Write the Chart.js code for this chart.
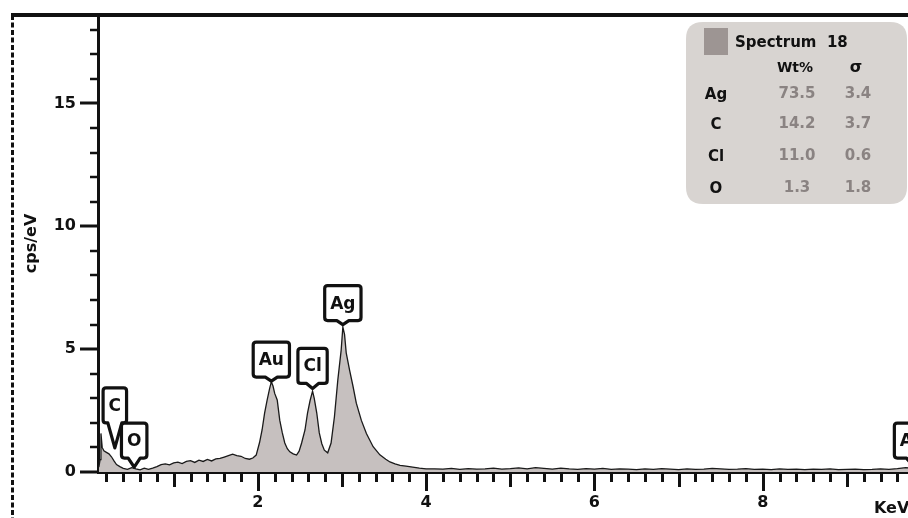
<!DOCTYPE html>
<html>
<head>
<meta charset="utf-8">
<script src="https://cdn.jsdelivr.net/npm/chart.js@4.4.1/dist/chart.umd.min.js"></script>
<style>
  html, body { margin: 0; padding: 0; background: #ffffff; overflow: hidden; width: 908px; height: 518px; }
  #wrap { position: absolute; left: 0; top: 0; width: 940px; height: 518px; }
</style>
</head>
<body>
<div id="wrap"><canvas id="c" width="940" height="518"></canvas></div>
<script>
// ---------- data ----------
const energyKeV = [
  0.11, 0.125, 0.135, 0.15, 0.17, 0.20, 0.23, 0.26, 0.29, 0.32, 0.36, 0.40, 0.45, 0.50, 0.55, 0.60,
  0.65, 0.70, 0.75, 0.80, 0.85, 0.90, 0.95, 1.00, 1.05, 1.10, 1.15, 1.20, 1.25, 1.30, 1.35, 1.40,
  1.45, 1.50, 1.55, 1.60, 1.65, 1.70, 1.75, 1.80, 1.85, 1.90, 1.94, 1.98, 2.02, 2.05, 2.08, 2.11,
  2.14, 2.16, 2.18, 2.20, 2.23, 2.26, 2.29, 2.32, 2.35, 2.38, 2.42, 2.46, 2.49, 2.52, 2.56, 2.59,
  2.62, 2.65, 2.67, 2.70, 2.73, 2.76, 2.79, 2.83, 2.87, 2.91, 2.95, 2.99, 3.01, 3.03, 3.05, 3.09,
  3.13, 3.17, 3.23, 3.29, 3.37, 3.45, 3.52, 3.57, 3.63, 3.69, 3.76, 3.84, 3.92, 4.00,
  4.1, 4.2, 4.3, 4.4, 4.5, 4.6, 4.7, 4.8, 4.9, 5.0, 5.1, 5.2, 5.3, 5.4, 5.5, 5.6, 5.7, 5.8, 5.9, 6.0,
  6.1, 6.2, 6.3, 6.4, 6.5, 6.6, 6.7, 6.8, 6.9, 7.0, 7.1, 7.2, 7.3, 7.4, 7.5, 7.6, 7.7, 7.8, 7.9, 8.0,
  8.1, 8.2, 8.3, 8.4, 8.5, 8.6, 8.7, 8.8, 8.9, 9.0, 9.1, 9.2, 9.3, 9.4, 9.5, 9.6, 9.7, 9.8, 9.9, 10.0
];
const cpsPerEv = [
  0.20, 0.50, 1.57, 1.00, 0.86, 0.80, 0.74, 0.62, 0.45, 0.30, 0.22, 0.15, 0.11, 0.18, 0.13, 0.09,
  0.16, 0.11, 0.16, 0.22, 0.30, 0.33, 0.29, 0.37, 0.40, 0.34, 0.43, 0.46, 0.39, 0.48, 0.43, 0.51,
  0.45, 0.53, 0.55, 0.61, 0.67, 0.73, 0.67, 0.64, 0.55, 0.52, 0.57, 0.69, 1.20, 1.71, 2.40, 2.93,
  3.40, 3.67, 3.50, 3.20, 2.93, 2.11, 1.60, 1.18, 0.95, 0.82, 0.74, 0.69, 0.85, 1.18, 1.71, 2.40,
  2.90, 3.29, 3.00, 2.40, 1.59, 1.15, 0.89, 0.78, 1.18, 2.25, 3.74, 4.96, 5.90, 5.60, 4.85, 4.15,
  3.50, 2.80, 2.10, 1.57, 1.03, 0.70, 0.52, 0.41, 0.33, 0.27, 0.24, 0.20, 0.16, 0.13,
  0.13, 0.12, 0.15, 0.11, 0.14, 0.12, 0.13, 0.16, 0.12, 0.14, 0.17, 0.13, 0.18, 0.15, 0.12, 0.16, 0.13, 0.11, 0.14, 0.12,
  0.15, 0.11, 0.13, 0.12, 0.10, 0.13, 0.11, 0.14, 0.12, 0.10, 0.13, 0.11, 0.12, 0.15, 0.13, 0.11, 0.12, 0.14, 0.11, 0.12,
  0.10, 0.13, 0.11, 0.12, 0.10, 0.12, 0.11, 0.13, 0.10, 0.11, 0.12, 0.10, 0.11, 0.13, 0.11, 0.14, 0.18, 0.15, 0.12, 0.10
];
const xTickValues = [2, 4, 6, 8];
const yTickValues = [0, 5, 10, 15];
const xAxisUnit = 'KeV';
const yAxisTitle = 'cps/eV';

const peakNames  = ['C', 'O', 'Au', 'Cl', 'Ag', 'Au'];
const peakEnergy = [0.30, 0.53, 2.16, 2.65, 3.01, 9.78];
const peakTipY   = [0.98, 0.20, 3.70, 3.40, 6.00, 0.28];

const spectrumName = 'Spectrum  18';
const tableHeader = ['Wt%', 'σ'];
const tableElements = ['Ag', 'C', 'Cl', 'O'];
const tableWt = ['73.5', '14.2', '11.0', '1.3'];
const tableSigma = ['3.4', '3.7', '0.6', '1.8'];

// ---------- styles ----------
const FONT = '"DejaVu Sans", "Liberation Sans", sans-serif';
const peakPointerLen = [25, 9, 4, 5, 4, 7];

const framePlugin = {
  id: 'frame',
  beforeDraw(chart) {
    const ctx = chart.ctx;
    ctx.save();
    ctx.fillStyle = '#ffffff';
    ctx.fillRect(0, 0, chart.width, chart.height);
    ctx.strokeStyle = '#111';
    ctx.lineWidth = 4;
    ctx.beginPath();
    ctx.moveTo(11, 15);
    ctx.lineTo(chart.width, 15);
    ctx.stroke();
    ctx.lineWidth = 3;
    ctx.setLineDash([5, 2.5]);
    ctx.beginPath();
    ctx.moveTo(12.5, 15);
    ctx.lineTo(12.5, chart.height);
    ctx.stroke();
    ctx.restore();
  }
};

const ticksPlugin = {
  id: 'customTicks',
  afterDraw(chart) {
    const ctx = chart.ctx;
    const xs = chart.scales.x, ys = chart.scales.y;
    const left = chart.chartArea.left, bottom = chart.chartArea.bottom;
    ctx.save();
    ctx.strokeStyle = '#111';
    ctx.lineCap = 'butt';
    for (let v = 0; v <= 18; v++) {
      const py = Math.round(ys.getPixelForValue(v));
      const len = (v % 5 === 0) ? 18 : 8;
      ctx.lineWidth = (v % 5 === 0) ? 3 : 2.5;
      ctx.beginPath();
      ctx.moveTo(left - len, py);
      ctx.lineTo(left, py);
      ctx.stroke();
    }
    for (let i = 1; i <= 50; i++) {
      const v = i * 0.2;
      const px = Math.round(xs.getPixelForValue(v)) + 0.5;
      let len = 10;
      if (i % 10 === 0) len = 19; else if (i % 5 === 0) len = 15;
      ctx.lineWidth = 3;
      ctx.beginPath();
      ctx.moveTo(px, bottom);
      ctx.lineTo(px, bottom + len);
      ctx.stroke();
    }
    ctx.fillStyle = '#111';
    ctx.font = 'bold 16px ' + FONT;
    ctx.textAlign = 'left';
    ctx.textBaseline = 'middle';
    ctx.fillText(xAxisUnit, 874, 509);
    ctx.restore();
  }
};

function roundRectPath(ctx, x, y, w, h, r) {
  ctx.beginPath();
  ctx.moveTo(x + r, y);
  ctx.lineTo(x + w - r, y);
  ctx.quadraticCurveTo(x + w, y, x + w, y + r);
  ctx.lineTo(x + w, y + h - r);
  ctx.quadraticCurveTo(x + w, y + h, x + w - r, y + h);
  ctx.lineTo(x + r, y + h);
  ctx.quadraticCurveTo(x, y + h, x, y + h - r);
  ctx.lineTo(x, y + r);
  ctx.quadraticCurveTo(x, y, x + r, y);
  ctx.closePath();
}

const labelsPlugin = {
  id: 'peakLabels',
  afterDatasetsDraw(chart) {
    const ctx = chart.ctx;
    const xs = chart.scales.x, ys = chart.scales.y;
    ctx.save();
    ctx.font = 'bold 17px ' + FONT;
    peakNames.forEach((name, i) => {
      const tx = xs.getPixelForValue(peakEnergy[i]);
      const ty = ys.getPixelForValue(peakTipY[i]);
      const plen = peakPointerLen[i];
      const tw = ctx.measureText(name).width;
      const w = tw + 11, h = 35;
      const bx = tx - w / 2;
      const by = ty - plen - h;
      const half = plen > 15 ? 7 : 6;
      const r = 3;
      ctx.beginPath();
      ctx.moveTo(bx + r, by);
      ctx.lineTo(bx + w - r, by);
      ctx.quadraticCurveTo(bx + w, by, bx + w, by + r);
      ctx.lineTo(bx + w, by + h - r);
      ctx.quadraticCurveTo(bx + w, by + h, bx + w - r, by + h);
      ctx.lineTo(tx + half, by + h);
      ctx.lineTo(tx, ty);
      ctx.lineTo(tx - half, by + h);
      ctx.lineTo(bx + r, by + h);
      ctx.quadraticCurveTo(bx, by + h, bx, by + h - r);
      ctx.lineTo(bx, by + r);
      ctx.quadraticCurveTo(bx, by, bx + r, by);
      ctx.closePath();
      ctx.fillStyle = '#ffffff';
      ctx.fill();
      ctx.lineWidth = 3.2;
      ctx.lineJoin = 'round';
      ctx.strokeStyle = '#111';
      ctx.stroke();
      ctx.fillStyle = '#111';
      ctx.textAlign = 'center';
      ctx.textBaseline = 'middle';
      ctx.fillText(name, tx, by + h / 2 + 1);
    });
    ctx.restore();
  }
};

const tablePlugin = {
  id: 'resultTable',
  afterDraw(chart) {
    const ctx = chart.ctx;
    ctx.save();
    roundRectPath(ctx, 686, 22, 221, 182, 17);
    ctx.fillStyle = '#d8d4d1';
    ctx.fill();
    ctx.fillStyle = '#9d9593';
    ctx.fillRect(704, 28, 24, 27);
    ctx.fillStyle = '#111';
    ctx.textBaseline = 'middle';
    ctx.textAlign = 'left';
    ctx.font = 'bold 15px ' + FONT;
    ctx.fillText(spectrumName, 735, 43);
    ctx.textAlign = 'center';
    ctx.font = 'bold 14px ' + FONT;
    ctx.fillText(tableHeader[0], 795, 68);
    ctx.font = 'bold 16px ' + FONT;
    ctx.fillText(tableHeader[1], 856, 68);
    const rowY = [95, 125, 157, 189];
    tableElements.forEach((el, i) => {
      ctx.font = 'bold 15px ' + FONT;
      ctx.fillStyle = '#111';
      ctx.fillText(el, 716, rowY[i]);
      ctx.fillStyle = '#8a8382';
      ctx.fillText(tableWt[i], 797, rowY[i] - 1);
      ctx.fillText(tableSigma[i], 858, rowY[i] - 1);
    });
    ctx.restore();
  }
};

new Chart(document.getElementById('c'), {
  type: 'line',
  data: {
    datasets: [{
      label: spectrumName,
      data: energyKeV.map((e, i) => ({ x: e, y: cpsPerEv[i] })),
      fill: 'origin',
      backgroundColor: '#c6c0bf',
      borderColor: '#1a1a1a',
      borderWidth: 1.3,
      pointRadius: 0,
      tension: 0
    }]
  },
  options: {
    responsive: false,
    animation: false,
    devicePixelRatio: 1,
    layout: { padding: { top: 15, left: 0, right: 9, bottom: 0 } },
    plugins: { legend: { display: false }, tooltip: { enabled: false } },
    scales: {
      x: {
        type: 'linear',
        min: 0.1,
        max: 10.0,
        z: 1,
        afterBuildTicks: s => { s.ticks = xTickValues.map(v => ({ value: v })); },
        afterFit: s => { s.height = 46; },
        ticks: {
          font: { family: FONT, size: 16, weight: 'bold' },
          color: '#111',
          padding: 2,
          maxRotation: 0,
          autoSkip: false
        },
        grid: { display: true, drawOnChartArea: false, drawTicks: true, tickLength: 19, color: 'rgba(0,0,0,0)' },
        border: { display: true, color: '#111', width: 3 }
      },
      y: {
        type: 'linear',
        min: 0,
        max: 18.6,
        z: 1,
        afterBuildTicks: s => { s.ticks = yTickValues.map(v => ({ value: v })); },
        afterFit: s => { s.width = 98; },
        ticks: {
          font: { family: FONT, size: 16, weight: 'bold' },
          color: '#111',
          padding: 4
        },
        grid: { display: true, drawOnChartArea: false, drawTicks: true, tickLength: 18, color: 'rgba(0,0,0,0)' },
        border: { display: true, color: '#111', width: 3 },
        title: {
          display: true,
          text: yAxisTitle,
          font: { family: FONT, size: 16, weight: 'bold' },
          color: '#111',
          padding: { top: 22, bottom: 0 }
        }
      }
    }
  },
  plugins: [framePlugin, ticksPlugin, labelsPlugin, tablePlugin]
});
</script>
</body>
</html>
